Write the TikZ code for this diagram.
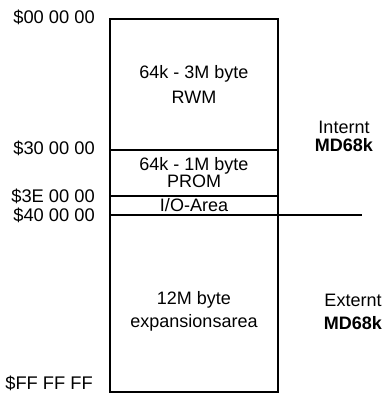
\documentclass[tikz,border=0pt]{standalone}
\usepackage{fontspec}
\setmainfont{Liberation Sans}
\usetikzlibrary{positioning}
\tikzset{
  blk/.style={draw, line width=1.1pt, minimum width=168pt, inner sep=0pt,
              outer sep=0pt, align=center, font=\fontsize{18}{20}\selectfont},
  addr/.style={anchor=east, inner sep=0pt, font=\fontsize{18.3}{20}\selectfont},
  side/.style={align=center, inner sep=0pt},
}

\begin{document}
\begin{tikzpicture}[x=1pt, y=1pt]
    \useasboundingbox (0,0) rectangle (386,395);
    % memory blocks
    \node[blk, minimum height=131pt, anchor=north,
          font=\fontsize{18}{25}\selectfont] (rwm) at (194,376) {64k - 3M byte\\RWM};
    \node[blk, minimum height=46pt, below=0pt of rwm,
          font=\fontsize{18}{17}\selectfont] (prom) {64k - 1M byte\\PROM};
    \node[blk, minimum height=19pt, below=0pt of prom] (io) {I/O-Area};
    \node[blk, minimum height=177pt, below=0pt of io] (ext) {};
    \node[side, font=\fontsize{18}{23}\selectfont] (extlbl)
          at ([yshift=-8pt]ext.center) {12M byte\\expansionsarea};
    % border internal / external
    \coordinate (cut) at (362,180);
    \draw[line width=1.1pt] (ext.north east) -- (cut);
    % addresses
    \node[addr] (a00) at (95,378) {\$00 00 00};
    \node[addr] (a30) at (95,247) {\$30 00 00};
    \node[addr] (a3e) at (95,199) {\$3E 00 00};
    \node[addr] (a40) at (95,180) {\$40 00 00};
    \node[addr] (aff) at (93,12) {\$FF FF FF};
    % side labels
    \node[side, font=\fontsize{18}{18}\selectfont] (intn) at (344,259) {Internt\\\textbf{MD68k}};
    \node[side, font=\fontsize{18}{23}\selectfont] (extn) at (353,83.5) {Externt\\\textbf{MD68k}};
\end{tikzpicture}
\end{document}
